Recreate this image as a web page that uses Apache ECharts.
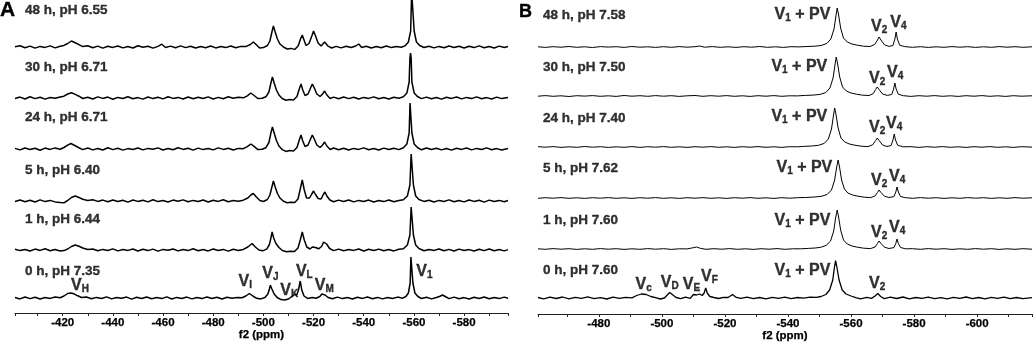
<!DOCTYPE html>
<html>
<head>
<meta charset="utf-8">
<script src="https://cdn.jsdelivr.net/npm/echarts@6/dist/echarts.min.js"></script>
<style>
  html, body { margin: 0; padding: 0; background: #fff; }
  #chart { width: 1034px; height: 343px; }
</style>
</head>
<body>
<div id="chart"></div>
<script>
// 51V NMR stacks. each point is [ppm, height above its own baseline]
const a48 = [
  [-401,0.3],[-403,1.2],[-405,-0.8],[-407,0.9],[-409,-1.1],[-411,0.6],[-413,-0.4],[-415,1.1],[-417,-0.9],[-419,0.8],
  [-420.5,1.6],[-422,3.5],[-423.5,6],[-425,4.2],[-426.5,2.4],[-428,0.4],[-430,1.3],[-432,-0.7],[-434,0.9],[-436,-1.1],
  [-438,0.7],[-440,-0.4],[-442,1],[-444,-0.9],[-446,0.5],[-448,-1],[-450,1.2],[-452,-0.3],[-454,0.8],[-456,-1.1],
  [-458,0.6],[-459.5,2.8],[-461,-0.5],[-463,0.9],[-465,-0.8],[-467,1.1],[-469,-0.6],[-471,0.8],[-473,-1],[-475,0.5],
  [-477,-0.7],[-479,1],[-481,-0.9],[-483,0.4],[-485,-0.6],[-487,1],[-489,-0.8],[-491,0.6],[-493,0.4],[-494.8,2.5],
  [-496,5],[-497.2,2.2],[-498.5,-1],[-500,-0.6],[-501.6,1.5],[-502.6,6],[-503.4,15],[-504,21],[-504.7,15],[-505.6,8],
  [-506.6,3],[-508,0],[-509.5,-2],[-511,-1.4],[-512.5,-2.4],[-513.9,1.2],[-514.8,8],[-515.5,12],[-516.2,7],[-517,1.5],
  [-518.2,3.5],[-519.3,11],[-520,16],[-520.8,11],[-521.8,4],[-523,1],[-524.4,5],[-525.8,0.8],[-527.2,-1],[-529,0.6],
  [-531,-0.9],[-533,0.8],[-535,-0.5],[-536.8,1],[-538,3],[-539.2,-0.4],[-541,0.7],[-543,-1],[-545,0.5],[-547,-0.8],
  [-549,1],[-551,-0.6],[-553,0.4],[-555,-0.2],[-556.6,1.4],[-557.8,5],[-558.7,16],[-559.1,55],[-559.7,55],[-560.1,16],
  [-561,5],[-562.3,1.5],[-564,-0.5],[-566,0.8],[-568,-0.9],[-570,0.6],[-572,-0.7],[-574,1],[-576,-0.5],[-578,0.8],
  [-580,-1],[-582,0.7],[-584,-0.6],[-586,1.1],[-588,-0.8],[-590,0.5],[-592,-1],[-594,0.9],[-596,-0.5],[-597.5,0.4]
]
const a30 = [
  [-401,-0.4],[-403,0.9],[-405,-1],[-407,1.2],[-409,-0.6],[-411,0.8],[-413,-1.1],[-415,0.5],[-417,-0.3],[-419,1],
  [-420.5,1.8],[-422,4],[-423.5,5.2],[-425,3.6],[-426.5,1.8],[-428,-0.5],[-430,0.8],[-432,-1],[-434,1.1],[-436,-0.4],
  [-438,0.9],[-440,-1.2],[-442,0.6],[-444,-0.5],[-446,1.3],[-448,-0.8],[-450,0.4],[-452,-1.1],[-454,1],[-456,-0.6],
  [-458,0.7],[-460,-0.9],[-462,1.2],[-464,-0.4],[-466,0.6],[-468,-1],[-470,1],[-472,-0.7],[-474,0.8],[-476,-0.5],
  [-478,1.1],[-480,-1],[-482,0.6],[-484,-0.8],[-486,1.2],[-488,-0.3],[-490,0.8],[-492,0.2],[-493.6,2.2],[-495,5],
  [-496.3,2.5],[-497.8,-0.5],[-499.5,-0.2],[-501,1.2],[-502.2,6],[-503,15],[-503.6,21],[-504.3,15],[-505.2,8],[-506.2,3],
  [-507.5,-0.5],[-509,-2.2],[-510.5,-1.5],[-512,-2],[-513.4,1.5],[-514.3,9],[-515,14],[-515.7,8],[-516.6,2.5],[-517.8,4],
  [-518.8,10],[-519.5,14],[-520.3,10],[-521.3,4],[-522.6,1.5],[-523.6,4],[-524.4,7],[-525.3,3],[-526.6,-0.5],[-528,0.9],
  [-530,-0.8],[-532,1],[-534,-0.6],[-536,0.8],[-538,-1],[-540,0.6],[-542,-0.4],[-544,1.1],[-546,-0.8],[-548,0.5],
  [-550,-1],[-552,0.7],[-554,-0.3],[-555.8,1.2],[-557.2,5],[-558.1,16],[-558.4,40],[-558.65,45],[-558.9,40],[-559.2,16],
  [-560.1,5],[-561.4,1.5],[-563,-0.6],[-565,0.9],[-567,-0.8],[-569,0.5],[-571,-1.1],[-573,0.8],[-575,-0.4],[-577,1],
  [-579,-0.9],[-581,0.6],[-583,-0.6],[-585,1.1],[-587,-0.8],[-589,0.4],[-591,-1],[-593,0.9],[-595,-0.6],[-597.5,0.5]
]
const a24 = [
  [-401,0.6],[-403,-0.9],[-405,1],[-407,-0.5],[-409,0.7],[-411,-1.2],[-413,0.9],[-415,-0.4],[-417,1.1],[-419,-0.2],
  [-420.5,1.5],[-422,3.8],[-423.3,5.5],[-424.8,3.5],[-426.3,1.5],[-428,-0.6],[-430,1],[-432,-0.9],[-434,0.5],[-436,-1],
  [-438,1.2],[-440,-0.6],[-442,0.8],[-444,-1.1],[-446,0.4],[-448,-0.5],[-450,1],[-452,-0.9],[-454,0.6],[-456,-0.3],
  [-458,1.1],[-460,-1],[-462,0.5],[-464,-0.8],[-466,1.2],[-468,-0.4],[-470,0.7],[-472,-1.1],[-474,0.9],[-476,-0.6],
  [-478,0.5],[-480,-0.9],[-482,1.1],[-484,-0.4],[-486,0.8],[-488,-1],[-490,0.6],[-492,0.3],[-493.6,2.4],[-495,5],
  [-496.3,2.6],[-497.8,-0.6],[-499.5,-0.3],[-501,1.3],[-502.2,6.5],[-503,16],[-503.6,22],[-504.3,16],[-505.2,8.5],[-506.2,3],
  [-507.5,-0.6],[-509,-2.4],[-510.5,-1.6],[-512,-2.1],[-513.4,1.5],[-514.3,9],[-515,14],[-515.7,8],[-516.6,2.5],[-517.8,4],
  [-518.8,10],[-519.5,14],[-520.3,10],[-521.3,4],[-522.6,1.5],[-523.6,4],[-524.4,7],[-525.3,3],[-526.6,-0.5],[-528,1],
  [-530,-0.7],[-532,0.8],[-534,-1],[-536,0.6],[-538,-0.4],[-540,1.1],[-542,-0.8],[-544,0.5],[-546,-1],[-548,0.9],
  [-550,-0.5],[-552,0.8],[-554,-0.6],[-555.8,1.3],[-557.2,5],[-558.1,16],[-558.45,46],[-558.85,46],[-559.2,16],[-560.1,5],
  [-561.4,1.5],[-563,-0.8],[-565,1],[-567,-0.5],[-569,0.7],[-571,-0.9],[-573,0.5],[-575,-1.1],[-577,0.8],[-579,-0.4],
  [-581,1],[-583,-0.9],[-585,0.6],[-587,-0.5],[-589,1.1],[-591,-0.7],[-593,0.4],[-595,-1],[-597.5,0.6]
]
const a5 = [
  [-401,-0.5],[-403,1],[-405,-0.7],[-407,0.8],[-409,-1],[-411,1.1],[-413,-0.6],[-415,0.6],[-417,-0.9],[-419,-1.5],
  [-420.5,-1.8],[-422,0.5],[-423.5,3.5],[-425,5],[-426.5,3.5],[-428,1.8],[-430,0.6],[-432,1.2],[-434,-0.4],[-436,0.9],
  [-438,-0.8],[-440,1],[-442,-0.5],[-444,0.7],[-446,-1.1],[-448,1],[-450,-0.4],[-452,0.8],[-454,-0.9],[-456,1.2],
  [-458,-0.6],[-460,0.5],[-462,-1],[-464,0.9],[-466,-0.3],[-468,1.1],[-470,-0.8],[-472,0.6],[-474,-0.5],[-476,1],
  [-478,-1],[-480,0.7],[-482,-0.4],[-484,1.2],[-486,-0.7],[-488,0.5],[-490,-0.3],[-492,0.8],[-493.8,3],[-495,6],
  [-496,7.5],[-497.2,4],[-498.6,0.5],[-500,-0.5],[-501.6,1.5],[-502.6,6],[-503.4,14],[-504,20],[-504.7,14],[-505.6,7.5],
  [-506.6,3],[-508,-0.3],[-509.5,-1.8],[-511,-1.2],[-512.5,-1.5],[-513.8,2],[-514.7,12],[-515.5,21],[-516.3,11],[-517.2,3],
  [-518.4,3],[-519.3,7],[-520,10],[-520.8,6.5],[-521.8,2.5],[-523,2],[-523.8,6],[-524.5,9],[-525.3,5],[-526.5,1],
  [-528,-0.7],[-530,0.9],[-532,-0.5],[-534,1],[-536,-0.9],[-538,0.6],[-540,-0.4],[-542,0.9],[-544,-1],[-546,0.5],
  [-548,-0.6],[-550,1],[-552,-0.8],[-554,0.4],[-555.8,1.2],[-557.4,5],[-558.4,16],[-558.9,47],[-559.4,47],[-559.8,16],
  [-560.7,5],[-562,1.5],[-564,-0.4],[-566,0.8],[-568,-1],[-570,0.6],[-572,-0.5],[-574,1.1],[-576,-0.8],[-578,0.5],
  [-580,-0.9],[-582,1],[-584,-0.4],[-586,0.7],[-588,-1.1],[-590,0.9],[-592,-0.5],[-594,0.6],[-596,-0.8],[-597.5,0.5]
]
const a1 = [
  [-401,0.8],[-403,-0.6],[-405,0.5],[-407,-1],[-409,0.9],[-411,-0.4],[-413,1.2],[-415,-0.8],[-417,0.4],[-419,-0.9],
  [-420.5,-0.6],[-422,1],[-423.5,3.5],[-425,5],[-426.5,3.8],[-428,2],[-430,0.5],[-432,1],[-434,-0.8],[-436,0.6],
  [-438,-0.5],[-440,1.1],[-442,-0.9],[-444,0.5],[-446,-0.4],[-448,1],[-450,-1],[-452,0.7],[-454,-0.6],[-456,0.9],
  [-458,-1.1],[-460,0.6],[-462,-0.3],[-464,1],[-466,-0.9],[-468,0.5],[-470,-0.6],[-472,1.2],[-474,-0.7],[-476,0.4],
  [-478,-0.9],[-480,1],[-482,-0.5],[-484,0.6],[-486,-1.1],[-488,0.8],[-490,-0.4],[-492,0.6],[-493.8,3],[-495.5,6.5],
  [-496.8,3],[-498.2,0],[-499.8,-0.8],[-501.4,1.2],[-502.4,5.5],[-503,12],[-503.5,18],[-504.1,12],[-505,6.5],[-506.2,2.5],
  [-507.6,-0.5],[-509.2,-1.8],[-510.8,-1.2],[-512.4,-1.5],[-513.8,2],[-514.7,10],[-515.5,18],[-516.3,10],[-517.3,3],[-518.6,1],
  [-519.5,3],[-520.1,4.5],[-520.8,2.5],[-522,1.2],[-523.2,3.5],[-524,8],[-524.5,10],[-525.2,6],[-526.4,1.5],[-528,-0.6],
  [-530,0.9],[-532,-0.8],[-534,0.5],[-536,-0.4],[-538,1],[-540,-1],[-542,0.7],[-544,-0.5],[-546,0.9],[-548,-0.7],
  [-550,0.4],[-552,-0.9],[-554,0.8],[-555.8,1.3],[-557.4,5],[-558.4,15],[-558.9,43],[-559.4,43],[-559.8,15],[-560.7,5],
  [-562,1.5],[-564,-0.7],[-566,0.5],[-568,-0.4],[-570,1],[-572,-0.8],[-574,0.6],[-576,-1],[-578,0.9],[-580,-0.5],
  [-582,0.4],[-584,-1],[-586,0.8],[-588,-0.6],[-590,1],[-592,-0.7],[-594,0.5],[-596,-0.9],[-597.5,0.4]
]
const a0 = [
  [-401,0.4],[-403,-0.9],[-405,1],[-407,-0.6],[-409,0.8],[-411,-1],[-413,0.5],[-415,-0.4],[-417,1],[-419,0.3],
  [-420.5,2],[-422,4.5],[-423.3,5],[-424.5,4.2],[-426,2.2],[-427.5,0.5],[-429.5,1],[-431.5,-0.8],[-433.5,0.6],[-435.5,-0.5],
  [-437.5,1.1],[-439.5,-0.9],[-441.5,0.5],[-443.5,-0.3],[-445.5,0.9],[-447.5,-1.1],[-449.5,0.7],[-451.5,-0.5],[-453.5,1],[-455.5,-0.8],
  [-457.5,0.4],[-459.5,-0.6],[-461.5,1.1],[-463.5,-1],[-465.5,0.6],[-467.5,-0.4],[-469.5,0.9],[-471.5,-0.9],[-473.5,0.5],[-475.5,-0.6],
  [-477.5,1],[-479.5,-0.5],[-481.5,0.7],[-483.5,-1],[-485.5,0.8],[-487.5,-0.3],[-489.5,0.5],[-491.5,0.2],[-493,2],[-494.4,4.5],
  [-495.8,2],[-497.3,-0.3],[-499,-0.9],[-500.6,0.5],[-501.8,4],[-502.4,9],[-502.8,12.7],[-503.4,9],[-504.3,4],[-505.5,0.5],
  [-507,-1.6],[-508.5,-2],[-510,-1],[-511.3,1.5],[-512.4,3.5],[-513.3,3],[-514,8],[-514.7,17],[-515.3,8],[-516.2,2],
  [-517.6,-0.4],[-519.5,0.6],[-521,-0.3],[-522.5,1.5],[-523.3,4],[-523.9,5],[-524.6,3],[-525.8,0.5],[-527.5,-0.7],[-529.5,0.9],
  [-531.5,-0.6],[-533.5,0.5],[-535.5,-1],[-537.5,0.8],[-539.5,-0.4],[-541.5,1],[-543.5,-0.7],[-545.5,0.6],[-547.5,-0.9],[-549.5,0.5],
  [-551.5,-0.5],[-553.5,0.9],[-555.5,-0.2],[-556.8,1.5],[-557.8,5],[-558.5,15],[-558.8,41],[-559.3,41],[-559.6,15],[-560.4,5],
  [-561.6,1.5],[-563,-0.5],[-565,0.8],[-567,-0.9],[-569,0.5],[-570.4,1.8],[-571.4,3],[-572.5,1.5],[-574,-0.6],[-576,0.9],
  [-578,-0.8],[-580,0.4],[-582,-1],[-584,0.7],[-586,-0.5],[-588,1],[-590,-0.8],[-592,0.5],[-594,-0.6],[-596,0.9],[-597.5,-0.3]
]

const b48 = [
  [-460.7,0.2],[-463,-0.4],[-465.5,0.3],[-468,-0.2],[-470.5,0.5],[-473,-0.3],[-475.5,0.2],[-478,-0.5],[-480.5,0.4],[-483,-0.1],
  [-485.5,0.3],[-488,-0.4],[-490.5,0.5],[-493,-0.2],[-495.5,0.2],[-498,-0.4],[-500.5,0.3],[-503,-0.3],[-505.5,0.4],[-508,-0.2],
  [-510.5,0.3],[-512,1],[-513.5,-0.2],[-516,0.4],[-518.5,-0.3],[-521,0.2],[-523.5,-0.4],[-526,0.3],[-528.5,-0.2],[-531,0.5],
  [-533.5,-0.3],[-536,0.2],[-538.5,-0.4],[-541,0.3],[-543.5,0.1],[-546,0.5],[-548.5,0.8],[-550.5,1.5],[-552.3,3.5],[-553.6,8],
  [-554.6,18],[-555.2,31],[-555.6,39],[-556,33],[-556.7,19],[-557.6,9],[-558.8,5],[-560.3,3],[-562,1.8],[-564,0.8],
  [-566,0.5],[-567.5,2.5],[-568.4,7],[-568.9,10],[-569.5,7],[-570.6,2.2],[-572,0.6],[-573.3,1.5],[-573.9,8],[-574.3,15],
  [-574.7,8],[-575.4,1.8],[-577,0.4],[-579.5,-0.3],[-582,0.3],[-584.5,-0.4],[-587,0.2],[-589.5,-0.3],[-592,0.4],[-594.5,-0.2],
  [-597,0.3],[-599.5,-0.4],[-602,0.2],[-604.5,-0.3],[-607,0.4],[-609.5,-0.2],[-612,0.3],[-614.5,-0.3],[-617.4,0.2]
]
const b30 = [
  [-460.7,-0.2],[-463,0.4],[-465.5,-0.3],[-468,0.2],[-470.5,-0.5],[-473,0.3],[-475.5,-0.1],[-478,0.4],[-480.5,-0.3],[-483,0.2],
  [-485.5,-0.4],[-488,0.5],[-490.5,-0.2],[-493,0.3],[-495.5,-0.3],[-498,0.4],[-500.5,-0.2],[-503,0.3],[-505.5,-0.4],[-508,0.2],
  [-510.5,0.5],[-513,-0.3],[-515.5,0.3],[-518,-0.2],[-520.5,0.4],[-523,-0.3],[-525.5,0.2],[-528,-0.4],[-530.5,0.3],[-533,-0.2],
  [-535.5,0.4],[-538,-0.3],[-540.5,0.2],[-543,0.1],[-545.5,0.6],[-548,0.9],[-550.2,1.6],[-552,3.5],[-553.3,8],[-554.3,18],
  [-554.9,31],[-555.3,39],[-555.7,33],[-556.4,19],[-557.3,9],[-558.5,5],[-560,3],[-561.7,1.8],[-563.7,0.8],[-565.7,0.5],
  [-567,2.3],[-567.8,6.5],[-568.3,9],[-568.9,6.5],[-570,2],[-571.5,0.6],[-572.9,1.5],[-573.5,7],[-573.9,13],[-574.3,7],
  [-575,1.8],[-576.6,0.3],[-579,-0.4],[-581.5,0.3],[-584,-0.2],[-586.5,0.4],[-589,-0.3],[-591.5,0.2],[-594,-0.4],[-596.5,0.3],
  [-599,-0.2],[-601.5,0.4],[-604,-0.3],[-606.5,0.2],[-609,-0.4],[-611.5,0.3],[-614,-0.2],[-617.4,0.2]
]
const b24 = [
  [-460.7,0.3],[-463,-0.2],[-465.5,0.4],[-468,-0.4],[-470.5,0.2],[-473,-0.3],[-475.5,0.5],[-478,-0.2],[-480.5,0.3],[-483,-0.4],
  [-485.5,0.2],[-488,-0.3],[-490.5,0.4],[-493,-0.4],[-495.5,0.3],[-498,-0.2],[-500.5,0.4],[-503,-0.3],[-505.5,0.2],[-508,-0.4],
  [-510.5,0.3],[-513,-0.2],[-515.5,0.4],[-518,-0.3],[-520.5,0.2],[-523,-0.4],[-525.5,0.3],[-528,-0.2],[-530.5,0.4],[-533,-0.3],
  [-535.5,0.2],[-538,-0.4],[-540.5,0.3],[-543,0.2],[-545,0.6],[-547.5,1],[-549.7,1.7],[-551.5,3.6],[-552.8,8],[-553.8,18],
  [-554.4,31],[-554.8,39],[-555.2,33],[-555.9,19],[-556.8,9],[-558,5],[-559.5,3],[-561.2,1.8],[-563.2,0.8],[-565.4,0.4],
  [-566.9,2.3],[-567.8,6.5],[-568.3,9],[-568.9,6.5],[-570,2],[-571.4,0.5],[-572.7,1.5],[-573.3,7],[-573.7,13],[-574.1,7],
  [-574.8,1.8],[-576.4,0.2],[-579,0.3],[-581.5,-0.4],[-584,0.3],[-586.5,-0.2],[-589,0.4],[-591.5,-0.3],[-594,0.2],[-596.5,-0.4],
  [-599,0.3],[-601.5,-0.2],[-604,0.4],[-606.5,-0.3],[-609,0.2],[-611.5,-0.4],[-614,0.3],[-617.4,-0.1]
]
const b5 = [
  [-460.7,-0.3],[-463,0.3],[-465.5,-0.2],[-468,0.4],[-470.5,-0.3],[-473,0.2],[-475.5,-0.4],[-478,0.3],[-480.5,-0.2],[-483,0.4],
  [-485.5,-0.3],[-488,0.2],[-490.5,-0.4],[-493,0.3],[-495.5,-0.2],[-498,0.4],[-500.5,-0.3],[-503,0.2],[-505.5,-0.4],[-508,0.3],
  [-510.5,-0.2],[-513,0.4],[-515.5,-0.3],[-518,0.2],[-520.5,-0.4],[-523,0.3],[-525.5,-0.2],[-528,0.4],[-530.5,-0.3],[-533,0.2],
  [-535.5,-0.4],[-538,0.3],[-540.5,-0.2],[-543,0.3],[-545.5,0.5],[-548,0.9],[-550.5,1.6],[-552.4,3.5],[-553.8,8],[-554.8,18],
  [-555.4,30],[-555.9,38],[-556.3,32],[-557,18],[-557.9,9],[-559,5],[-560.5,3],[-562.2,1.8],[-564.2,0.8],[-566.2,0.4],
  [-567.6,2],[-568.4,5.5],[-568.9,8],[-569.5,5.5],[-570.6,1.8],[-572,0.5],[-573.6,1.4],[-574.2,6],[-574.6,11],[-575,6],
  [-575.7,1.5],[-577.3,0.3],[-579.5,-0.3],[-582,0.4],[-584.5,-0.2],[-587,0.3],[-589.5,-0.4],[-592,0.2],[-594.5,-0.3],[-597,0.4],
  [-599.5,-0.2],[-602,0.3],[-604.5,-0.4],[-607,0.2],[-609.5,-0.3],[-612,0.4],[-614.5,-0.2],[-617.4,0.2]
]
const b1 = [
  [-460.7,0.2],[-463,-0.3],[-465.5,0.4],[-468,-0.2],[-470.5,0.3],[-473,-0.4],[-475.5,0.2],[-478,-0.3],[-480.5,0.4],[-483,-0.2],
  [-485.5,0.3],[-488,-0.4],[-490.5,0.2],[-493,-0.3],[-495.5,0.4],[-498,-0.2],[-500.5,0.3],[-503,-0.4],[-505.5,0.2],[-508,0.1],
  [-509.8,1.2],[-511,2],[-512.3,0.6],[-514,-0.3],[-516.5,0.3],[-519,-0.2],[-521.5,0.4],[-524,-0.3],[-526.5,0.2],[-529,-0.4],
  [-531.5,0.3],[-534,-0.2],[-536.5,0.4],[-539,-0.3],[-541.5,0.2],[-544,0.2],[-546.5,0.6],[-548.6,1],[-550.4,1.7],[-552.1,3.6],
  [-553.5,8],[-554.5,18],[-555.1,31],[-555.6,39],[-556,33],[-556.7,19],[-557.6,9],[-558.8,5],[-560.3,3],[-562,1.8],
  [-564,0.8],[-566.2,0.4],[-567.6,2],[-568.4,5.5],[-568.9,8],[-569.5,5.5],[-570.6,1.8],[-572,0.5],[-573.6,1.4],[-574.2,5.5],
  [-574.6,10],[-575,5.5],[-575.7,1.5],[-577.3,0.2],[-579.5,0.3],[-582,-0.3],[-584.5,0.4],[-587,-0.2],[-589.5,0.3],[-592,-0.4],
  [-594.5,0.2],[-597,-0.3],[-599.5,0.4],[-602,-0.2],[-604.5,0.3],[-607,-0.4],[-609.5,0.2],[-612,-0.3],[-614.5,0.3],[-617.4,-0.2]
]
const b0 = [
  [-460.7,0.5],[-462.5,-0.8],[-464.5,0.9],[-466.5,-0.5],[-468.5,1],[-470.5,-0.9],[-472.5,0.6],[-474.5,-0.4],[-476.5,1.1],[-478.5,-0.7],
  [-480.5,0.4],[-482.5,-1],[-484.5,0.8],[-486.5,-0.3],[-488.5,0.7],[-490.5,0.2],[-492,2.5],[-493.5,4],[-495,3.5],[-496.5,1.5],
  [-498,0.3],[-499.5,-1],[-500.8,0],[-501.7,3],[-502.5,5.5],[-503.3,3.5],[-504.5,0.5],[-506,-0.6],[-507.5,0.8],[-509,-0.4],
  [-510,3.5],[-511,3],[-512,4],[-512.8,2.5],[-513.4,5],[-513.9,10],[-514.4,5],[-515.2,1.5],[-516.5,0.5],[-518,-0.5],
  [-519.5,0.7],[-521,0.5],[-522.4,3.5],[-523.6,0.6],[-525,-0.4],[-527,0.8],[-529,-0.7],[-531,0.5],[-533,-0.9],[-535,0.6],
  [-537,-0.3],[-539,0.9],[-541,-0.6],[-543,0.5],[-545,-0.2],[-547,0.8],[-549,0.6],[-550.5,1.5],[-552,3.5],[-553.2,8],
  [-554.2,18],[-554.7,30],[-555.1,37.5],[-555.5,31],[-556.2,18],[-557.2,8],[-558.4,4],[-560,2],[-561.5,0.3],[-563,-0.9],
  [-565,0.6],[-566.5,-0.4],[-567.6,2],[-568.5,4.5],[-569.4,1.5],[-570.5,-0.6],[-572.5,0.8],[-574.5,-0.5],[-576.5,1],[-578.5,-0.8],
  [-580.5,0.5],[-582.5,-0.3],[-584.5,0.9],[-586.5,-0.7],[-588.5,0.4],[-590.5,-0.9],[-592.5,0.7],[-594.5,-0.4],[-596.5,1],[-598.5,-0.6],
  [-600.5,0.5],[-602.5,-0.8],[-604.5,0.6],[-606.5,-0.3],[-608.5,0.8],[-610.5,-0.6],[-612.5,0.5],[-614.5,-0.7],[-617.4,0.3]
]

const namesA = ['48 h, pH 6.55', '30 h, pH 6.71', '24 h, pH 6.71', '5 h, pH 6.40', '1 h, pH 6.44', '0 h, pH 7.35']
const namesB = ['48 h, pH 7.58', '30 h, pH 7.50', '24 h, pH 7.40', '5 h, pH 7.62', '1 h, pH 7.60', '0 h, pH 7.60']

// peak labels: [subscript, ppm, height on the panel's scale, trailing text]
const peaksA = [
  ['H', -426.9, 27], ['I', -492.8, 31], ['J', -502.8, 39], ['K', -510.3, 22],
  ['L', -516.3, 41], ['M', -524.3, 27], ['1', -564.2, 41]
]
const peaksB = [
  ['1', -544.6, 299, ' + PV'], ['2', -568.9, 287], ['4', -575.0, 291],
  ['1', -543.6, 247, ' + PV'], ['2', -568.3, 235], ['4', -574.0, 241],
  ['1', -543.6, 197, ' + PV'], ['2', -568.3, 186], ['4', -573.7, 190],
  ['1', -545.2, 146, ' + PV'], ['2', -568.9, 133], ['4', -574.6, 137],
  ['1', -544.6, 93, ' + PV'], ['2', -568.9, 81], ['4', -574.6, 86],
  ['1', -544.6, 43, ' + PV'], ['c', -494.2, 29], ['D', -502.5, 31], ['E', -509.4, 29],
  ['F', -515.1, 37], ['2', -568.3, 30]
]

const rowsA = [a48, a30, a24, a5, a1, a0]
const rowsB = [b48, b30, b24, b5, b1, b0]
const baseA = [266, 215, 164, 112, 63, 15]
const baseB = [267, 218, 167, 116, 65, 16]
const nameYA = [303, 246, 196, 143, 94, 42]
const nameYB = [299, 247, 196, 146, 94, 44]

const FONT = '"Liberation Sans", Arial, Helvetica, sans-serif'
// a thin outline in the text colour makes the bold a touch heavier, like the print
const heavy = { color: '#000', textBorderColor: '#000', textBorderWidth: 0.35 }
const rich = {
  v: Object.assign({ fontSize: 16, fontWeight: 'bold', fontFamily: FONT }, heavy),
  s: Object.assign({ fontSize: 10, fontWeight: 'bold', fontFamily: FONT, padding: [7, 0, 0, 0] }, heavy)
}

function xAxisFor(grid, min, max, split) {
  return {
    gridIndex: grid,
    type: 'value',
    inverse: true,
    min: min,
    max: max,
    splitNumber: split,
    name: 'f2 (ppm)',
    nameLocation: 'middle',
    nameGap: 16,
    nameMoveOverlap: false,
    nameTextStyle: Object.assign({ fontFamily: FONT, fontWeight: 'bold', fontSize: 11.5, verticalAlign: 'top' }, heavy, { textBorderWidth: 0.25 }),
    axisLine: { onZero: false, lineStyle: { color: '#222', width: 1 } },
    axisTick: { show: true, length: 3, lineStyle: { color: '#222' } },
    minorTick: { show: true, splitNumber: 2, length: 3, lineStyle: { color: '#222' } },
    splitLine: { show: false },
    minorSplitLine: { show: false },
    axisLabel: Object.assign({
      margin: 4, showMinLabel: false, showMaxLabel: false,
      fontFamily: FONT, fontWeight: 'bold', fontSize: 11.5
    }, heavy, { textBorderWidth: 0.25 })
  }
}

const series = []
rowsA.forEach((row, i) => {
  series.push({
    type: 'line', xAxisIndex: 0, yAxisIndex: 0, showSymbol: false, silent: true,
    lineStyle: { color: '#000', width: 1.5 },
    data: row.map(p => [p[0], baseA[i] + p[1]])
  })
})
rowsB.forEach((row, i) => {
  series.push({
    type: 'line', xAxisIndex: 1, yAxisIndex: 1, showSymbol: false, silent: true,
    lineStyle: { color: '#000', width: i === 5 ? 1.3 : 1 },
    data: row.map(p => [p[0], baseB[i] + p[1]])
  })
})

function nameSeries(ax, names, ppm, ys) {
  return {
    type: 'scatter', xAxisIndex: ax, yAxisIndex: ax, symbolSize: 0, silent: true, clip: false,
    data: names.map((t, i) => ({ name: t, value: [ppm, ys[i]] })),
    label: Object.assign({
      show: true, position: 'right', distance: 0, formatter: p => p.name,
      fontFamily: FONT, fontWeight: 'bold', fontSize: 13.5
    }, heavy)
  }
}
function peakSeries(ax, peaks) {
  return {
    type: 'scatter', xAxisIndex: ax, yAxisIndex: ax, symbolSize: 0, silent: true, clip: false,
    data: peaks.map(p => ({
      name: '{v|V}{s|' + p[0] + '}' + (p[3] ? '{v|' + p[3] + '}' : ''),
      value: [p[1], p[2]]
    })),
    label: { show: true, position: 'inside', formatter: p => p.name, rich: rich }
  }
}
series.push(nameSeries(0, namesA, -405, nameYA))
series.push(nameSeries(1, namesB, -462.3, nameYB))
series.push(peakSeries(0, peaksA))
series.push(peakSeries(1, peaksB))

const option = {
  animation: false,
  backgroundColor: '#fff',
  title: [
    { text: 'A', left: 0, top: 0, padding: 0, textStyle: Object.assign({ fontFamily: FONT, fontWeight: 'bold', fontSize: 21 }, heavy) },
    { text: 'B', left: 519, top: 3, padding: 0, textStyle: Object.assign({ fontFamily: FONT, fontWeight: 'bold', fontSize: 18 }, heavy) }
  ],
  grid: [
    { left: 15, top: 0, width: 493, height: 313, outerBoundsMode: 'none' },
    { left: 538, top: 0, width: 494, height: 314, outerBoundsMode: 'none' }
  ],
  xAxis: [
    xAxisFor(0, -597.5, -401, 10),
    xAxisFor(1, -617.4, -460.7, 8)
  ],
  yAxis: [
    { gridIndex: 0, type: 'value', min: 0, max: 313, show: false },
    { gridIndex: 1, type: 'value', min: 0, max: 314, show: false }
  ],
  series: series
}

const chart = echarts.init(document.getElementById('chart'), null, { renderer: 'canvas' })
chart.setOption(option)
</script>
</body>
</html>
